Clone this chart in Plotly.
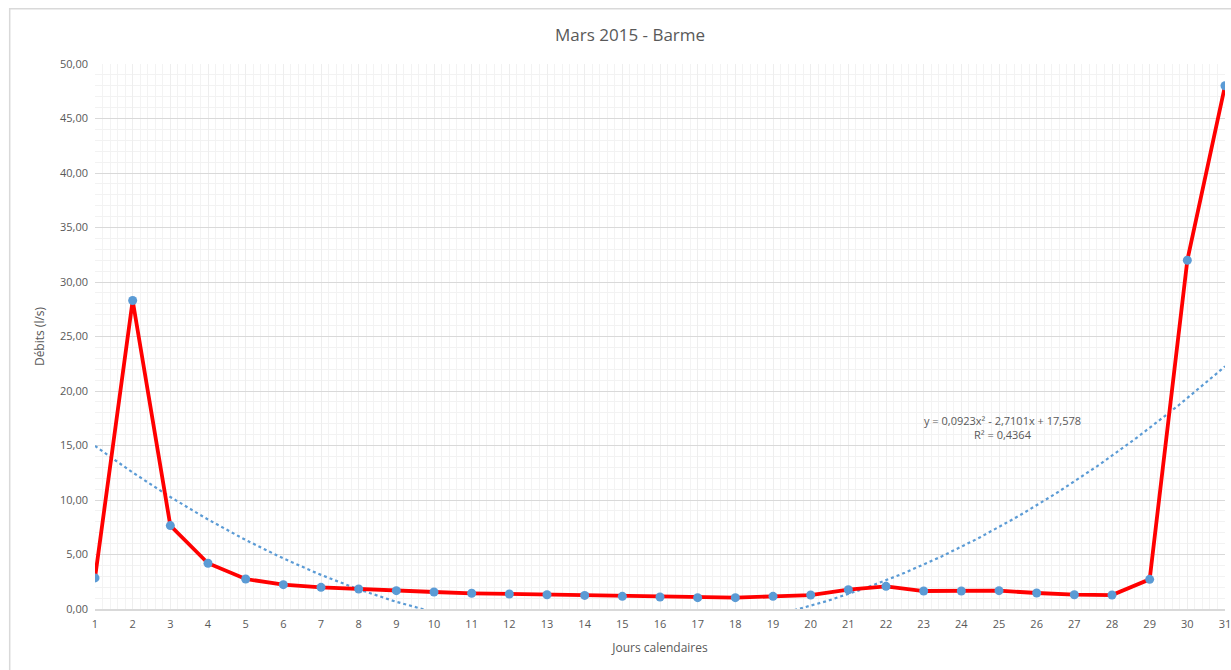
import numpy as np
import plotly.graph_objects as go

# Débits journaliers, mars 2015
jours = list(range(1, 32))
debits = [2.85, 28.3, 7.65, 4.2, 2.75, 2.23, 1.99, 1.83, 1.68, 1.56,
          1.44, 1.38, 1.31, 1.25, 1.16, 1.10, 1.04, 1.04, 1.16, 1.28,
          1.77, 2.08, 1.65, 1.65, 1.68, 1.47, 1.31, 1.28, 2.72, 32.0,
          48.0]

# Courbe de tendance polynomiale (ordre 2) affichée sur le graphique
trend_coefs = [0.0923, -2.7101, 17.578]
trend_r2 = 0.4364

x_trend = np.linspace(1, 31, 301)
y_trend = np.polyval(trend_coefs, x_trend)

TXT = "#595959"
FONT = "Open Sans"

fig = go.Figure()

fig.add_trace(go.Scatter(
    x=x_trend, y=y_trend,
    mode="lines",
    line=dict(color="#5B9BD5", width=2.2, dash="dot"),
    hoverinfo="skip",
    showlegend=False,
))

fig.add_trace(go.Scatter(
    x=jours, y=debits,
    mode="lines+markers",
    line=dict(color="#FF0000", width=3.8),
    marker=dict(color="#5B9BD5", size=9),
    showlegend=False,
))

fig.add_annotation(
    x=0.8035, y=0.333, xref="paper", yref="paper",
    xanchor="center", yanchor="middle",
    text="y = 0,0923x² - 2,7101x + 17,578<br>R² = 0,4364",
    showarrow=False,
    font=dict(family=FONT, size=11, color=TXT),
    align="center",
)

# cadre du graphique
fig.add_shape(
    type="path", xref="paper", yref="paper",
    path="M -0.0755,-0.12 L -0.0755,1.1015 L 1.1,1.1015",
    line=dict(color="#D9D9D9", width=1.5),
)

fig.update_layout(
    width=1231, height=670,
    margin=dict(l=95, r=6, t=64, b=61, autoexpand=False),
    paper_bgcolor="white",
    plot_bgcolor="white",
    separators=", ",
    font=dict(family=FONT, size=11, color=TXT),
    title=dict(
        text="Mars 2015 - Barme",
        xref="paper", x=0.4735, xanchor="center",
        y=0.948, yanchor="middle",
        font=dict(family=FONT, size=17, color=TXT),
    ),
    xaxis=dict(
        range=[1, 31],
        automargin=False,
        tickmode="linear", tick0=1, dtick=1,
        showgrid=True, gridcolor="#EEEEEE", gridwidth=1,
        minor=dict(dtick=0.2, tick0=1, showgrid=True, gridcolor="#F3F3F3", gridwidth=1),
        showline=True, linecolor="#D9D9D9", linewidth=1.5,
        zeroline=False,
        ticks="", ticklabelstandoff=4,
        ticklabeloverflow="allow",
        title=dict(text="Jours calendaires", standoff=14,
                   font=dict(family=FONT, size=12, color=TXT)),
        tickfont=dict(family=FONT, size=11, color=TXT),
    ),
    yaxis=dict(
        range=[0, 50],
        automargin=False,
        tickmode="linear", tick0=0, dtick=5,
        tickformat=".2f",
        showgrid=True, gridcolor="#D9D9D9", gridwidth=1,
        minor=dict(dtick=1, showgrid=True, gridcolor="#F2F2F2", gridwidth=1),
        zeroline=False,
        ticks="", ticklabelstandoff=6,
        title=dict(text="Débits (l/s)", standoff=12,
                   font=dict(family=FONT, size=12, color=TXT)),
        tickfont=dict(family=FONT, size=11, color=TXT),
    ),
)

fig.write_html(
    "out.html",
    config={"displayModeBar": False},
    post_script="document.body.style.margin='0';document.body.style.overflow='hidden';",
)
